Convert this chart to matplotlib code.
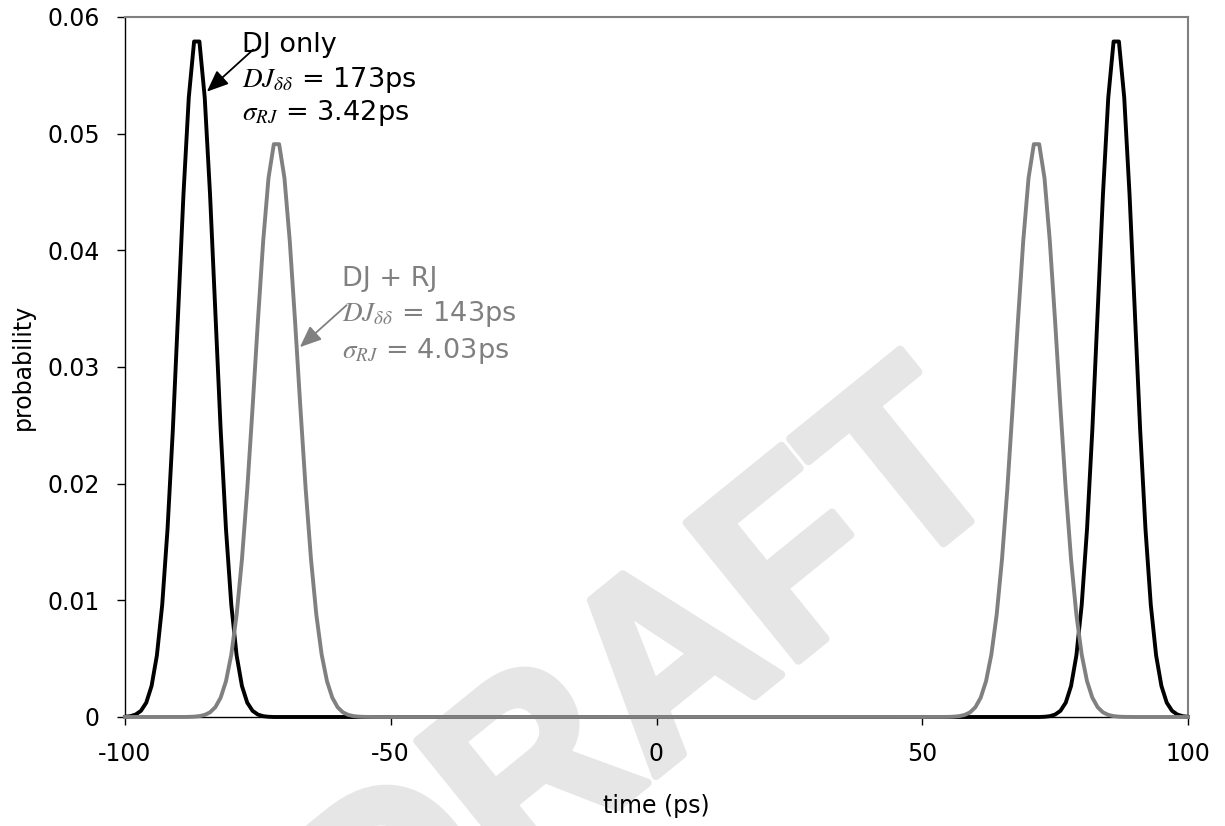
import numpy as np
import matplotlib
matplotlib.use("Agg")
import matplotlib.pyplot as plt
from matplotlib.textpath import TextPath
from matplotlib.patches import PathPatch
from matplotlib.font_manager import FontProperties
from matplotlib.transforms import Affine2D, IdentityTransform

# ---- data ----
x_ticks = [-100, -50, 0, 50, 100]
x_tick_labels = ["-100", "-50", "0", "50", "100"]
y_ticks = [0, 0.01, 0.02, 0.03, 0.04, 0.05, 0.06]
y_tick_labels = ["0", "0.01", "0.02", "0.03", "0.04", "0.05", "0.06"]

time_ps = np.arange(-100, 101, 1)

# DJ only (black) : two peaks, values at 1 ps steps
black_left_times = np.arange(-100, -72)
black_left_vals = [0.00002, 0.00007, 0.00021, 0.00053, 0.00123, 0.00266, 0.00528,
                   0.00961, 0.0161, 0.0246, 0.0347, 0.0448, 0.0531, 0.0579,
                   0.0579, 0.0531, 0.0448, 0.0347, 0.0246, 0.0161, 0.00961,
                   0.00528, 0.00266, 0.00123, 0.00053, 0.00021, 0.00007, 0.00002]
black_right_times = np.arange(73, 101)
black_right_vals = [0.00002, 0.00007, 0.00021, 0.00053, 0.00123, 0.00266, 0.00528,
                    0.00961, 0.0161, 0.0246, 0.0347, 0.0448, 0.0531, 0.0579,
                    0.0579, 0.0531, 0.0448, 0.0347, 0.0246, 0.0161, 0.00961,
                    0.00528, 0.00266, 0.00123, 0.00053, 0.00021, 0.00007, 0.00002]

# DJ + RJ (grey)
grey_left_times = np.arange(-89, -53)
grey_left_vals = [0.000004, 0.000011, 0.00003, 0.000076, 0.00018, 0.0004, 0.00084,
                  0.00166, 0.00307, 0.00535, 0.00876, 0.0135, 0.0195, 0.0265,
                  0.0339, 0.0408, 0.0462, 0.0491, 0.0491, 0.0462, 0.0408, 0.0339,
                  0.0265, 0.0195, 0.0135, 0.00876, 0.00535, 0.00307, 0.00166,
                  0.00084, 0.0004, 0.00018, 0.000076, 0.00003, 0.000011, 0.000004]
grey_right_times = np.arange(54, 90)
grey_right_vals = [0.000004, 0.000011, 0.00003, 0.000076, 0.00018, 0.0004, 0.00084,
                   0.00166, 0.00307, 0.00535, 0.00876, 0.0135, 0.0195, 0.0265,
                   0.0339, 0.0408, 0.0462, 0.0491, 0.0491, 0.0462, 0.0408, 0.0339,
                   0.0265, 0.0195, 0.0135, 0.00876, 0.00535, 0.00307, 0.00166,
                   0.00084, 0.0004, 0.00018, 0.000076, 0.00003, 0.000011, 0.000004]

black_label = ["DJ only", r"$DJ_{\delta\delta}$ = 173ps", r"$\sigma_{RJ}$ = 3.42ps"]
grey_label = ["DJ + RJ", r"$DJ_{\delta\delta}$ = 143ps", r"$\sigma_{RJ}$ = 4.03ps"]
watermark_text = "DRAFT"

# ---- build full series ----
def full_series(parts):
    s = np.zeros(len(time_ps))
    for t, v in parts:
        idx = np.searchsorted(time_ps, t)
        s[idx] = v
    return s

black_series = full_series([(black_left_times, black_left_vals),
                            (black_right_times, black_right_vals)])
grey_series = full_series([(grey_left_times, grey_left_vals),
                           (grey_right_times, grey_right_vals)])

# ---- style ----
plt.rcParams["font.family"] = ["DejaVu Sans"]
plt.rcParams["mathtext.fontset"] = "stix"
GREY = "#808080"

W, H = 1225, 826
fig = plt.figure(figsize=(W / 100, H / 100), dpi=100)
ax = fig.add_axes([125 / W, 1 - 717 / H, (1188 - 125) / W, (717 - 17) / H])
ax.patch.set_alpha(0)

# watermark (text path, rotated)
tp = TextPath((0, 0), watermark_text, size=1,
              prop=FontProperties(family="Liberation Sans", weight="bold"))
ext = tp.get_extents()
cx = (ext.x0 + ext.x1) / 2
cy = (ext.y0 + ext.y1) / 2
em_x, em_y = 240.0, 258.0
ang = 39.0
a_center = np.array([668.0, H - 652.0])
shift = 0.111 * em_x * np.array([np.cos(np.radians(ang)), np.sin(np.radians(ang))])
pos = a_center - shift
wm_tr = (Affine2D().translate(-cx, -cy).scale(em_x, em_y)
         .rotate_deg(ang).translate(pos[0], pos[1]))
wm = PathPatch(tp, transform=wm_tr + IdentityTransform(), facecolor="#e6e6e6",
               edgecolor="#e6e6e6", lw=6, joinstyle="round", zorder=-5)
fig.add_artist(wm)

ax.plot(time_ps, black_series, color="black", lw=2.8, zorder=3, clip_on=False,
        solid_joinstyle="round")
ax.plot(time_ps, grey_series, color=GREY, lw=2.8, zorder=4, clip_on=False,
        solid_joinstyle="round")

ax.set_xlim(-100, 100)
ax.set_ylim(0, 0.06)
ax.set_xticks(x_ticks)
ax.set_xticklabels(x_tick_labels)
ax.set_yticks(y_ticks)
ax.set_yticklabels(y_tick_labels)
ax.tick_params(direction="out", length=6, width=1, labelsize=17, pad=12, color="black")

for s in ["top", "right"]:
    ax.spines[s].set_color(GREY)
    ax.spines[s].set_linewidth(1.5)
for s in ["left", "bottom"]:
    ax.spines[s].set_color("black")
    ax.spines[s].set_linewidth(1)

ax.set_xlabel("time (ps)", fontsize=17)
ax.set_ylabel("probability", fontsize=17)
ax.xaxis.set_label_coords(0.5, -0.127)
ax.xaxis.label.set_va("center")
ax.yaxis.set_label_coords(-0.096, 0.5)
ax.yaxis.label.set_va("center")

# annotations
fs = 19.5
for txt, yb in zip(black_label, [0.0570, 0.0540, 0.0512]):
    ax.text(-78.0, yb, txt, fontsize=fs, color="black", va="baseline", ha="left", zorder=6)
for txt, yb in zip(grey_label, [0.0369, 0.0339, 0.0308]):
    ax.text(-59.2, yb, txt, fontsize=fs, color=GREY, va="baseline", ha="left", zorder=6)

ax.annotate("", xy=(-84.6, 0.0536), xytext=(-75.9, 0.0572),
            arrowprops=dict(arrowstyle="-|>,head_length=0.6,head_width=0.25",
                            color="black", lw=1.3, mutation_scale=22,
                            shrinkA=0, shrinkB=0), zorder=7)
ax.annotate("", xy=(-67.1, 0.0317), xytext=(-58.3, 0.0353),
            arrowprops=dict(arrowstyle="-|>,head_length=0.6,head_width=0.25",
                            color=GREY, lw=1.3, mutation_scale=22,
                            shrinkA=0, shrinkB=0), zorder=7)

fig.savefig("out.png", dpi=100)
